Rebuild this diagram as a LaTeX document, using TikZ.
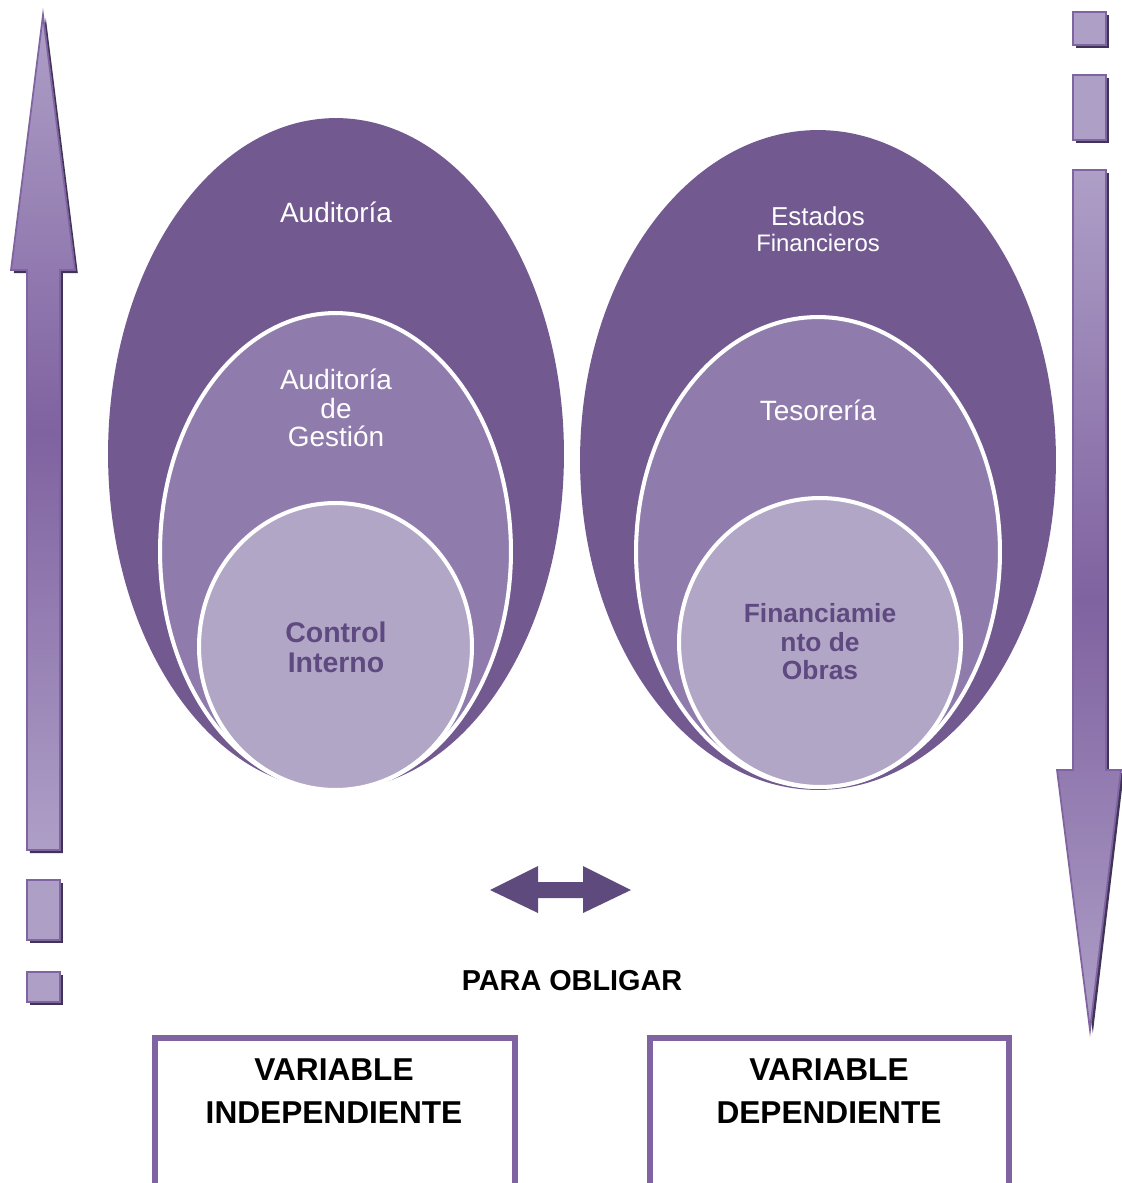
\documentclass[tikz,border=0pt]{standalone}
\usepackage{fontspec}
\setmainfont{Liberation Sans}
\usetikzlibrary{shapes.geometric,shadows}
\definecolor{outerfill}{HTML}{725A91}
\definecolor{midfill}{HTML}{907CAC}
\definecolor{innerfill}{HTML}{B2A6C6}
\definecolor{innertext}{HTML}{5E4A80}
\definecolor{edge}{HTML}{8064A2}
\definecolor{shade}{HTML}{3F3356}
\definecolor{lite}{HTML}{AE9FC7}
\definecolor{deep}{HTML}{7F62A0}
\definecolor{twin}{HTML}{5E4A7D}
\tikzset{
  outerring/.style={ellipse, fill=outerfill, inner sep=0pt},
  ring/.style={ellipse, fill=#1, draw=white, line width=2.3pt, inner sep=0pt},
  lab/.style={text=white, align=center, font=\fontsize{15.9}{16.4}\selectfont},
  corelab/.style={text=innertext, align=center, font=\bfseries\fontsize{16.2}{17}\selectfont},
  shaft/.style={top color=lite, bottom color=lite, middle color=deep, draw=edge, line width=1pt,
    drop shadow={shadow xshift=1.6pt, shadow yshift=-1.8pt, fill=shade, opacity=1}},
  sq/.style={fill=lite, draw=edge, line width=1pt,
    drop shadow={shadow xshift=1.6pt, shadow yshift=-1.8pt, fill=shade, opacity=1}},
  varbox/.style={draw=edge, line width=3pt, fill=white},
  bigtext/.style={text=black, align=center, font=\bfseries\fontsize{18}{24.4}\selectfont},
}

\begin{document}
\begin{tikzpicture}[x=0.02cm, y=-0.02cm]
  \useasboundingbox (0,0) rectangle (1122,1183);

  % left group
  \node[outerring, minimum width=9.12cm, minimum height=13.44cm] (outerL) at (336,454) {};
  \node[ring=midfill, minimum width=7.02cm, minimum height=9.54cm] (midL) at (335.5,551.5) {};
  \node[ring=innerfill, minimum width=5.46cm, minimum height=5.74cm] (coreL) at (335.5,646.5) {};
  \node[lab] (audit) at (336,212) {Auditoría};
  \node[lab] (gestion) at (336,408) {Auditoría\\de\\Gestión};
  \node[corelab] (control) at (336,647) {Control\\Interno};

  % right group
  \node[outerring, minimum width=9.52cm, minimum height=13.2cm] (outerR) at (818,460) {};
  \node[ring=midfill, minimum width=7.28cm, minimum height=9.4cm] (midR) at (818,552) {};
  \node[ring=innerfill, minimum width=5.64cm, minimum height=5.78cm] (coreR) at (820,642.5) {};
  \node[lab, font=\fontsize{14.75}{14.7}\selectfont] (estados) at (818,229)
    {Estados\\{\fontsize{13.6}{14}\selectfont Financieros}};
  \node[lab] (teso) at (818,410) {Tesorería};
  \node[corelab, font=\bfseries\fontsize{15}{16.2}\selectfont] (obras) at (820,642)
    {Financiamie\\nto de\\Obras};

  % side arrows and squares
  \path[shaft] (27,850) -- (27,270) -- (11,270) -- (43,15) -- (75,270) -- (60,270) -- (60,850) -- cycle;
  \draw[sq] (27,880) rectangle (60,940);
  \draw[sq] (27,972) rectangle (60,1002);

  \draw[sq] (1073,12) rectangle (1106,45);
  \draw[sq] (1073,75) rectangle (1106,140);
  \path[shaft] (1073,170) -- (1073,770) -- (1057,770) -- (1090,1030) -- (1121,770) -- (1106,770) -- (1106,170) -- cycle;

  % double arrow
  \fill[twin] (490,890) -- (538,866) -- (538,882) -- (583,882) -- (583,866) -- (631,890)
    -- (583,913) -- (583,898) -- (538,898) -- (538,913) -- cycle;
  \node[bigtext, font=\bfseries\fontsize{16.4}{18}\selectfont] (obligar) at (572,981) {PARA OBLIGAR};

  % variable boxes
  \draw[varbox] (155,1038) rectangle (515,1190);
  \draw[varbox] (650,1038) rectangle (1009,1190);
  \node[bigtext] (indep) at (334,1091) {VARIABLE\\INDEPENDIENTE};
  \node[bigtext] (dep) at (829,1091) {VARIABLE\\DEPENDIENTE};
\end{tikzpicture}
\end{document}
